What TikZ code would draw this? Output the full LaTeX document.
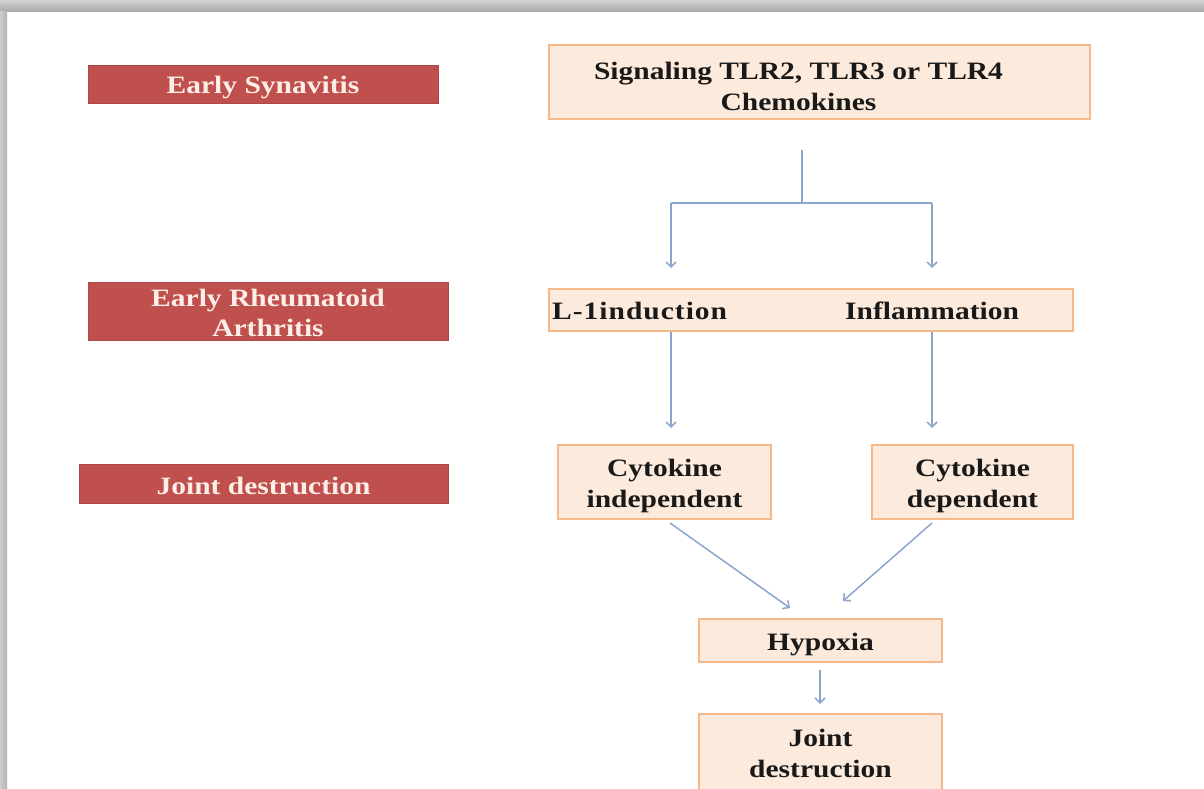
\documentclass[tikz,border=0pt]{standalone}
\usepackage{fontspec}
\setmainfont{Liberation Serif}[FakeStretch=1.18]
\newfontfamily\widerserif{Liberation Serif}[FakeStretch=1.18, LetterSpace=4]
\usetikzlibrary{arrows.meta}
\definecolor{stage}{RGB}{192,80,77}
\definecolor{stagetext}{RGB}{253,238,232}
\definecolor{peach}{RGB}{252,235,220}
\definecolor{peachline}{RGB}{245,185,140}
\definecolor{conncol}{RGB}{140,165,205}
\tikzset{
  stagebox/.style={draw=stage!90!black, line width=0.6pt, fill=stage, inner sep=0pt},
  stagetxt/.style={text=stagetext, font=\bfseries\fontsize{25}{30}\selectfont, align=center, inner sep=0pt},
  flowbox/.style={draw=peachline, line width=1.6pt, fill=peach, inner sep=0pt},
  flowtxt/.style={text=black!90, font=\bfseries\fontsize{25}{31}\selectfont, align=center, inner sep=0pt},
  conn/.style={draw=conncol, line width=1.5pt, -{Straight Barb[length=5pt,width=10pt]}},
  connline/.style={draw=conncol, line width=1.5pt}
}
\begin{document}
\begin{tikzpicture}[x=1pt,y=-1pt]
\useasboundingbox (0,0) rectangle (1204,789);
\fill[white] (0,0) rectangle (1204,789);
% shadow frame
\shade[top color=gray!35, bottom color=gray!70] (0,0) rectangle (1204,12);
\shade[left color=gray!40, right color=gray!60] (0,12) rectangle (7,789);

% stage labels
\node[stagebox, minimum width=350pt, minimum height=38pt] (s1) at (263,84) {};
\node[stagetxt, yshift=-3.5pt] (s1t) at (s1.center) {Early Synavitis};
\node[stagebox, minimum width=360pt, minimum height=58pt] (s2) at (268,311) {};
\node[stagetxt, yshift=-2pt] (s2t) at (s2.center) {Early Rheumatoid\\Arthritis};
\node[stagebox, minimum width=369pt, minimum height=39pt] (s3) at (263.5,483.5) {};
\node[stagetxt, yshift=-2pt] (s3t) at (s3.center) {Joint destruction};

% flow boxes
\node[flowbox, minimum width=541pt, minimum height=74pt] (top) at (819.5,82) {};
\node[flowtxt, yshift=-4pt, xshift=-21pt] (topt) at (top.center) {Signaling TLR2, TLR3 or TLR4\\Chemokines};
\node[flowbox, minimum width=524pt, minimum height=42pt] (mid) at (811,310) {};
\node[flowtxt, anchor=west, font=\widerserif\bfseries\fontsize{25}{31}\selectfont] (l1) at (552,311) {L-1induction};
\node[flowtxt, anchor=west] (infl) at (845,311) {Inflammation};
\node[flowbox, minimum width=213pt, minimum height=74pt] (cind) at (664.5,482) {};
\node[flowtxt, yshift=-4pt] (cindt) at (cind.center) {Cytokine\\independent};
\node[flowbox, minimum width=201pt, minimum height=74pt] (cdep) at (972.5,482) {};
\node[flowtxt, yshift=-4pt] (cdept) at (cdep.center) {Cytokine\\dependent};
\node[flowbox, minimum width=243pt, minimum height=43pt] (hyp) at (820.5,640.5) {};
\node[flowtxt, yshift=-4pt] (hypt) at (hyp.center) {Hypoxia};
\node[flowbox, minimum width=243pt, minimum height=80pt] (jd) at (820.5,754) {};
\node[flowtxt, yshift=1pt] (jdt) at (jd.center) {Joint\\destruction};

% connectors
\coordinate (c0) at (802,150);
\coordinate (c1) at (802,203);
\coordinate (cl) at (671,203);
\coordinate (cr) at (932,203);
\coordinate (al) at (671,268);
\coordinate (ar) at (932,268);
\draw[connline] (c0) -- (c1);
\draw[connline] (cl) -- (cr);
\draw[conn] (cl) -- (al);
\draw[conn] (cr) -- (ar);

\coordinate (l1s) at (671,332);
\coordinate (l1e) at (671,428);
\coordinate (ins) at (932,332);
\coordinate (ine) at (932,428);
\draw[conn] (l1s) -- (l1e);
\draw[conn] (ins) -- (ine);

\coordinate (d1s) at (670,523);
\coordinate (d1e) at (790,608);
\coordinate (d2s) at (932,523);
\coordinate (d2e) at (843,601);
\draw[conn] (d1s) -- (d1e);
\draw[conn] (d2s) -- (d2e);

\coordinate (hs) at (820,670);
\coordinate (he) at (820,704);
\draw[conn] (hs) -- (he);
\end{tikzpicture}
\end{document}
